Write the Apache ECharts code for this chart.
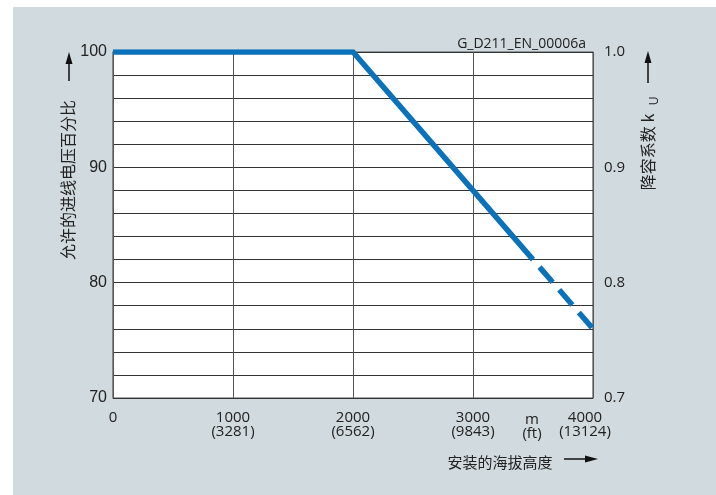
<!DOCTYPE html>
<html><head><meta charset="utf-8">
<script src="https://cdn.jsdelivr.net/npm/echarts@6/dist/echarts.min.js"></script>
<style>
html,body{margin:0;padding:0;background:#fff;}
#panel{position:absolute;left:13px;top:7px;width:703px;height:488px;background:#d1dade;}
#chart{position:absolute;left:0;top:0;width:716px;height:495px;}
</style></head>
<body><div id="panel"></div><div id="chart"></div>
<script>
const xTicks = [0, 1000, 2000, 3000, 4000];
const ftLabels = ['', '(3281)', '(6562)', '(9843)', '(13124)'];
const solidPts = [[0, 100], [2000, 100], [3500, 82]];
const dashedPts = [[3500, 82], [4000, 76]];
const leftLabels = [70, 80, 90, 100];
const rightLabels = ['0.7', '0.8', '0.9', '1.0'];

const chart = echarts.init(document.getElementById('chart'), null, {renderer: 'canvas'});
const humanist = '"Open Sans", "Noto Sans", sans-serif';
const cjk = '"Noto Sans CJK SC", sans-serif';
const blue = '#0a72bb';

chart.setOption({
  animation: false,
  backgroundColor: 'transparent',
  grid: {left: 113, right: 123, top: 52, bottom: 97, show: true, backgroundColor: '#fff', borderColor: '#555', borderWidth: 1.2},
  xAxis: {
    type: 'value', min: 0, max: 4000, interval: 1000,
    axisLine: {show: false}, axisTick: {show: false},
    splitLine: {show: true, lineStyle: {color: '#555', width: 1}},
    axisLabel: {
      margin: 13, color: '#222', fontFamily: humanist, fontSize: 15, lineHeight: 14,
      formatter: v => {
        const i = xTicks.indexOf(v);
        if (i === xTicks.length - 1) return '{last|' + v + '\n' + ftLabels[i] + '}';
        return i > 0 ? v + '\n' + ftLabels[i] : String(v);
      },
      rich: {last: {fontFamily: humanist, fontSize: 15, lineHeight: 14, color: '#222', padding: [0, 16, 0, 0], align: 'center'}}
    }
  },
  yAxis: [{
    type: 'value', min: 70, max: 100, interval: 2, position: 'left',
    axisLine: {show: false}, axisTick: {show: false},
    splitLine: {show: true, lineStyle: {color: '#333', width: 1}},
    axisLabel: {margin: 6, color: '#222', fontFamily: '"Liberation Sans", Arial, sans-serif', fontSize: 16,
      formatter: v => leftLabels.includes(v) ? String(v) : ''}
  }, {
    type: 'value', min: 0.7, max: 1.0, interval: 0.1, position: 'right',
    axisLine: {show: false}, axisTick: {show: false}, splitLine: {show: false},
    axisLabel: {margin: 11, color: '#222', fontFamily: humanist, fontSize: 15,
      formatter: v => rightLabels.find(s => Math.abs(parseFloat(s) - v) < 1e-6) || ''}
  }],
  series: [{
    type: 'line', data: solidPts, symbol: 'none', z: 5,
    lineStyle: {color: blue, width: 5.5, cap: 'butt', join: 'miter'}
  }, {
    type: 'line', data: dashedPts, symbol: 'none', z: 5,
    lineStyle: {color: blue, width: 5.5, type: [20, 10], dashOffset: 20, cap: 'butt'}
  }],
  graphic: [
    {type: 'text', x: 586, y: 44, style: {text: 'G_D211_EN_00006a', font: '14px ' + humanist, fill: '#222', align: 'right', verticalAlign: 'middle'}},
    {type: 'text', x: 532, y: 420, style: {text: 'm', font: '15px ' + humanist, fill: '#222', align: 'center', verticalAlign: 'middle'}},
    {type: 'text', x: 532, y: 434, style: {text: '(ft)', font: '15px ' + humanist, fill: '#222', align: 'center', verticalAlign: 'middle'}},
    // left axis name
    {type: 'text', x: 68, y: 180, rotation: Math.PI / 2, style: {text: '允许的进线电压百分比', font: '16px ' + cjk, fill: '#222', align: 'center', verticalAlign: 'middle'}},
    {type: 'line', shape: {x1: 69, y1: 81, x2: 69, y2: 62}, style: {stroke: '#111', lineWidth: 1.5}},
    {type: 'polygon', shape: {points: [[69, 52], [65.5, 64], [72.5, 64]]}, style: {fill: '#111'}},
    // right axis name
    {type: 'text', x: 648, y: 152, rotation: Math.PI / 2, style: {text: '降容系数 k', font: '16px ' + cjk, fill: '#222', align: 'center', verticalAlign: 'middle'}},
    {type: 'text', x: 655, y: 101, rotation: Math.PI / 2, style: {text: 'U', font: '12px ' + humanist, fill: '#222', align: 'center', verticalAlign: 'middle'}},
    {type: 'line', shape: {x1: 648, y1: 83, x2: 648, y2: 62}, style: {stroke: '#111', lineWidth: 1.5}},
    {type: 'polygon', shape: {points: [[648, 51], [644.5, 63], [651.5, 63]]}, style: {fill: '#111'}},
    // x axis name
    {type: 'text', x: 500, y: 462, style: {text: '安装的海拔高度', font: '15px ' + cjk, fill: '#222', align: 'center', verticalAlign: 'middle'}},
    {type: 'line', shape: {x1: 564, y1: 459, x2: 588, y2: 459}, style: {stroke: '#111', lineWidth: 1.5}},
    {type: 'polygon', shape: {points: [[598, 459], [585, 455.5], [585, 462.5]]}, style: {fill: '#111'}}
  ]
});
</script></body></html>
